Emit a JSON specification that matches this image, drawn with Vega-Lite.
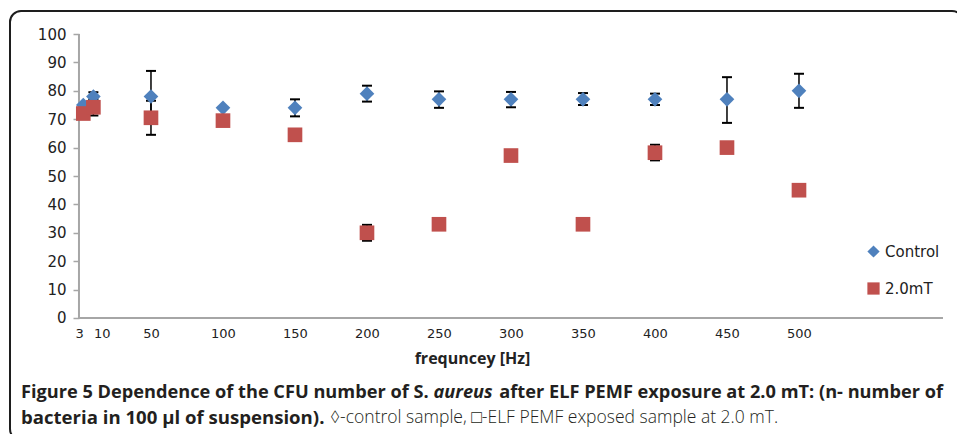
{
  "$schema": "https://vega.github.io/schema/vega-lite/v6.json",
  "autosize": {"type": "fit", "contains": "padding"},
  "width": 957,
  "height": 434,
  "padding": {"left": 10, "top": 11, "right": -6, "bottom": -6},
  "background": "white",
  "config": {
    "view": {"stroke": "#1e1e1e", "strokeWidth": 2, "cornerRadius": 11, "fill": "white"},
    "axis": {"grid": false}
  },
  "data": {
    "values": [
      {"freq": 3, "series": "Control", "value": 75},
      {"freq": 10, "series": "Control", "value": 78, "lo": 76.5, "hi": 79.5},
      {"freq": 50, "series": "Control", "value": 78, "lo": 69, "hi": 87},
      {"freq": 100, "series": "Control", "value": 74},
      {"freq": 150, "series": "Control", "value": 74, "lo": 71, "hi": 77},
      {"freq": 200, "series": "Control", "value": 79, "lo": 76.2, "hi": 81.8},
      {"freq": 250, "series": "Control", "value": 77, "lo": 74, "hi": 79.8},
      {"freq": 300, "series": "Control", "value": 77, "lo": 74.2, "hi": 79.6},
      {"freq": 350, "series": "Control", "value": 77, "lo": 75, "hi": 79.2},
      {"freq": 400, "series": "Control", "value": 77, "lo": 75, "hi": 79},
      {"freq": 450, "series": "Control", "value": 77, "lo": 68.7, "hi": 84.8},
      {"freq": 500, "series": "Control", "value": 80, "lo": 74, "hi": 86},
      {"freq": 3, "series": "2.0mT", "value": 72},
      {"freq": 10, "series": "2.0mT", "value": 74.2, "lo": 71.3, "hi": 77},
      {"freq": 50, "series": "2.0mT", "value": 70.5, "lo": 64.5, "hi": 76.5},
      {"freq": 100, "series": "2.0mT", "value": 69.5},
      {"freq": 150, "series": "2.0mT", "value": 64.5},
      {"freq": 200, "series": "2.0mT", "value": 30, "lo": 27.2, "hi": 32.8},
      {"freq": 250, "series": "2.0mT", "value": 33},
      {"freq": 300, "series": "2.0mT", "value": 57.2},
      {"freq": 350, "series": "2.0mT", "value": 33},
      {"freq": 400, "series": "2.0mT", "value": 58.2, "lo": 55.5, "hi": 61},
      {"freq": 450, "series": "2.0mT", "value": 60},
      {"freq": 500, "series": "2.0mT", "value": 45}
    ]
  },
  "layer": [
    {
      "data": {"values": [{}]},
      "mark": {"type": "rule", "color": "#a6a6a6", "strokeWidth": 2},
      "encoding": {
        "x": {"datum": 0, "type": "quantitative"},
        "x2": {"datum": 600},
        "y": {"datum": 0, "type": "quantitative"}
      }
    },
    {
      "data": {"values": [{}]},
      "mark": {"type": "rule", "color": "#a6a6a6", "strokeWidth": 2},
      "encoding": {
        "x": {"datum": 0, "type": "quantitative"},
        "y": {"datum": 0, "type": "quantitative"},
        "y2": {"datum": 100}
      }
    },
    {
      "transform": [{"filter": "isValid(datum.lo)"}],
      "mark": {"type": "rule", "color": "black", "strokeWidth": 1.5},
      "encoding": {
        "x": {"field": "freq", "type": "quantitative"},
        "y": {"field": "lo", "type": "quantitative"},
        "y2": {"field": "hi"}
      }
    },
    {
      "transform": [{"filter": "isValid(datum.lo)"}],
      "mark": {"type": "tick", "orient": "horizontal", "color": "black", "size": 10, "thickness": 2, "opacity": 1},
      "encoding": {
        "x": {"field": "freq", "type": "quantitative"},
        "y": {"field": "lo", "type": "quantitative"}
      }
    },
    {
      "transform": [{"filter": "isValid(datum.hi)"}],
      "mark": {"type": "tick", "orient": "horizontal", "color": "black", "size": 10, "thickness": 2, "opacity": 1},
      "encoding": {
        "x": {"field": "freq", "type": "quantitative"},
        "y": {"field": "hi", "type": "quantitative"}
      }
    },
    {
      "mark": {"type": "point", "filled": true, "opacity": 1, "size": 215},
      "encoding": {
        "x": {
          "field": "freq", "type": "quantitative",
          "scale": {"domain": [-47.9, 613.9], "nice": false, "zero": false},
          "axis": {
            "values": [3, 10, 50, 100, 150, 200, 250, 300, 350, 400, 450, 500],
            "ticks": false, "domain": false, "grid": false, "offset": -122,
            "labelFont": "DejaVu Sans", "labelFontSize": 13, "labelColor": "#222",
            "labelPadding": 9, "labelOverlap": false, "labelFlush": false,
            "labelAlign": {"condition": [{"test": "datum.value == 3", "value": "right"}, {"test": "datum.value == 10", "value": "left"}], "value": "center"},
            "title": "frequncey [Hz]", "titleFont": "Open Sans", "titleFontWeight": "bold",
            "titleFontSize": 16, "titleColor": "#222", "titleX": 462, "titlePadding": 10
          }
        },
        "y": {
          "field": "value", "type": "quantitative",
          "scale": {"domain": [-42.96, 108.1], "nice": false, "zero": false},
          "axis": {
            "values": [0, 10, 20, 30, 40, 50, 60, 70, 80, 90, 100],
            "offset": -69, "domain": false, "grid": false,
            "tickColor": "#a6a6a6", "tickSize": 6, "tickWidth": 1.5,
            "labelFont": "DejaVu Sans", "labelFontSize": 15, "labelColor": "#222",
            "labelPadding": 7, "title": null
          }
        },
        "color": {
          "field": "series", "type": "nominal",
          "scale": {"domain": ["Control", "2.0mT"], "range": ["#4f81bd", "#c0504d"]},
          "legend": {
            "title": null, "orient": "none", "legendX": 856, "legendY": 233,
            "labelFont": "DejaVu Sans", "labelFontSize": 15, "labelColor": "#222",
            "symbolSize": 150, "rowPadding": 21, "padding": 0, "labelOffset": 4,
            "symbolStrokeWidth": 0
          }
        },
        "shape": {
          "field": "series", "type": "nominal",
          "scale": {"domain": ["Control", "2.0mT"], "range": ["diamond", "square"]}
        }
      }
    },
    {
      "data": {"values": [{"t": "Figure 5 Dependence of the CFU number of S."}]},
      "mark": {"type": "text", "align": "left", "baseline": "middle", "font": "Open Sans", "fontWeight": "bold", "fontSize": 18.2, "color": "#231f20"},
      "encoding": {"x": {"datum": -40.3, "type": "quantitative"}, "y": {"datum": -26.4, "type": "quantitative"}, "text": {"field": "t"}}
    },
    {
      "data": {"values": [{"t": "aureus"}]},
      "mark": {"type": "text", "align": "left", "baseline": "middle", "font": "Open Sans", "fontWeight": "bold", "fontStyle": "italic", "fontSize": 18.2, "color": "#231f20"},
      "encoding": {"x": {"datum": 246.2, "type": "quantitative"}, "y": {"datum": -26.4, "type": "quantitative"}, "text": {"field": "t"}}
    },
    {
      "data": {"values": [{"t": "after ELF PEMF exposure at 2.0 mT: (n- number of"}]},
      "mark": {"type": "text", "align": "right", "baseline": "middle", "font": "Open Sans", "fontWeight": "bold", "fontSize": 18.2, "color": "#231f20"},
      "encoding": {"x": {"datum": 600, "type": "quantitative"}, "y": {"datum": -26.4, "type": "quantitative"}, "text": {"field": "t"}}
    },
    {
      "data": {"values": [{"t": "bacteria in 100 µl of suspension)."}]},
      "mark": {"type": "text", "align": "left", "baseline": "middle", "font": "Open Sans", "fontWeight": "bold", "fontSize": 18.6, "color": "#231f20"},
      "encoding": {"x": {"datum": -40.3, "type": "quantitative"}, "y": {"datum": -35.2, "type": "quantitative"}, "text": {"field": "t"}}
    },
    {
      "data": {"values": [{"t": "◊-control sample, □-ELF PEMF exposed sample at 2.0 mT."}]},
      "mark": {"type": "text", "align": "left", "baseline": "middle", "font": "Open Sans", "fontWeight": 300, "fontSize": 17.5, "color": "#231f20"},
      "encoding": {"x": {"datum": 174.3, "type": "quantitative"}, "y": {"datum": -35.2, "type": "quantitative"}, "text": {"field": "t"}}
    }
  ]
}
